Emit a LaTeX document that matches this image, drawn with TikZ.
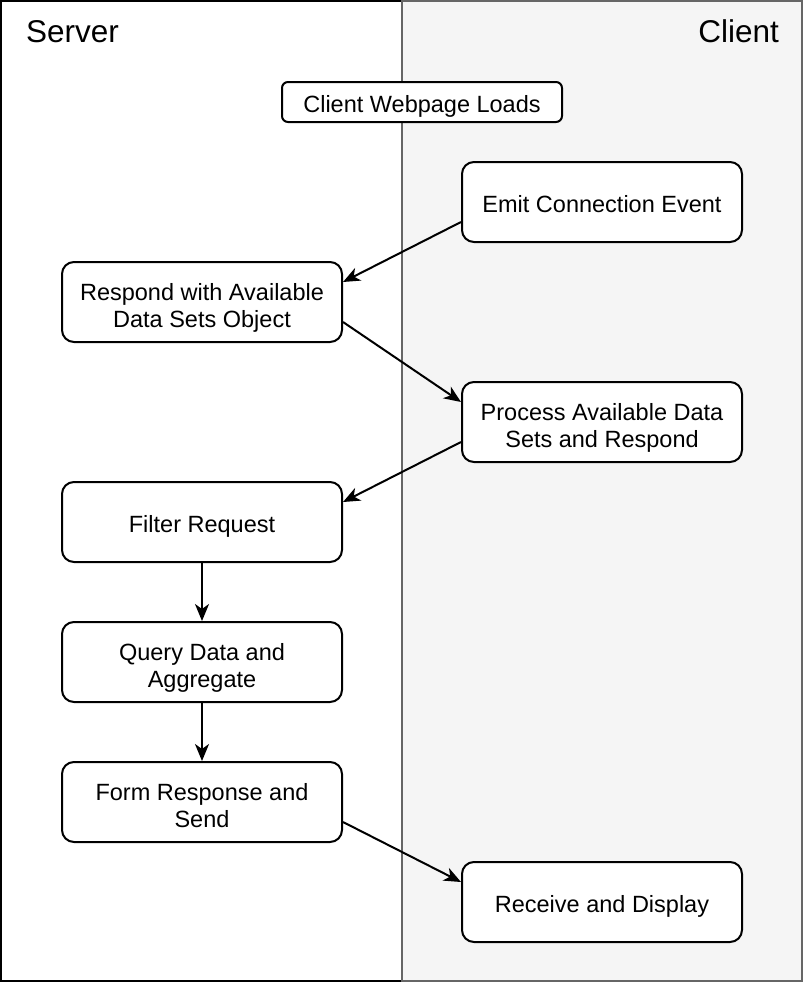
\documentclass[tikz,border=0pt]{standalone}
\usepackage{fontspec}
\setmainfont{Liberation Sans}
\usetikzlibrary{arrows.meta,calc}
\definecolor{clientfill}{HTML}{F5F5F5}
\definecolor{clientline}{HTML}{666666}
\newcommand\onestrut{\rule[-6pt]{0pt}{32pt}}
\newcommand\topstrut{\rule{0pt}{30pt}}
\newcommand\botstrut{\rule[-6pt]{0pt}{6pt}}
\begin{document}
\begin{tikzpicture}[x=1pt,y=-1pt,
  box/.style={draw=black,line width=2pt,rounded corners=12pt,fill=white,
    minimum width=280pt,minimum height=80pt,inner sep=0pt,align=center,
    font=\fontsize{23.5}{27}\selectfont},
  conn/.style={line width=2pt,-{Stealth[length=17pt,width=14pt,inset=5pt]}},
  title/.style={font=\fontsize{31.5}{36}\selectfont,inner sep=0pt}]
\useasboundingbox (0,0) rectangle (804,983);
\draw[line width=2pt,draw=black,fill=white] (1,1) rectangle (402,981);
\draw[line width=2pt,draw=clientline,fill=clientfill] (402,1) rectangle (802,981);
\node[title,anchor=base west] (server) at (26,42) {Server};
\node[title,anchor=base east] (client) at (779,42) {Client};
\node[box,minimum height=40pt,rounded corners=6pt] (load) at (422,102) {\onestrut Client Webpage Loads};
\node[box] (emit) at (602,202) {\onestrut Emit Connection Event};
\node[box] (resp) at (202,302) {\topstrut Respond with Available\\\botstrut Data Sets Object};
\node[box] (proc) at (602,422) {\topstrut Process Available Data\\\botstrut Sets and Respond};
\node[box] (filt) at (202,522) {\onestrut Filter Request};
\node[box] (query) at (202,662) {\topstrut Query Data and\\\botstrut Aggregate};
\node[box] (form) at (202,802) {\topstrut Form Response and\\\botstrut Send};
\node[box] (recv) at (602,902) {\onestrut Receive and Display};
\draw[conn] ($(emit.west)+(0,20)$) -- ($(resp.east)+(0,-20)$);
\draw[conn] ($(resp.east)+(0,20)$) -- ($(proc.west)+(0,-20)$);
\draw[conn] ($(proc.west)+(0,20)$) -- ($(filt.east)+(0,-20)$);
\draw[conn] (filt.south) -- (query.north);
\draw[conn] (query.south) -- (form.north);
\draw[conn] ($(form.east)+(0,20)$) -- ($(recv.west)+(0,-20)$);
\end{tikzpicture}
\end{document}
